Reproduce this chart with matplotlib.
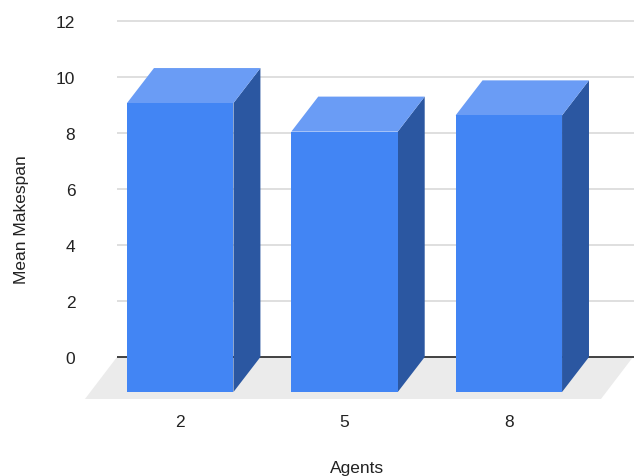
import matplotlib.pyplot as plt
from matplotlib.patches import Polygon

# Data
agents = ['2', '5', '8']
mean_makespan = [9.07, 8.05, 8.63]
y_ticks = [0, 2, 4, 6, 8, 10, 12]

# 3D look: bar width and depth offsets in data units
BAR_W = 0.648
DX = 0.164      # horizontal shift of the back face
DZ = 1.25       # vertical shift of the back face
FLOOR_DX = 0.195
FLOOR_Y = -1.5

FRONT = '#4285f4'
TOP = '#6a9cf5'
SIDE = '#2b57a1'
FLOOR = '#ebebeb'
TEXT = '#222222'

plt.rcParams['font.family'] = ['Liberation Sans Narrow', 'Liberation Sans', 'DejaVu Sans']

fig = plt.figure(figsize=(6.34, 4.77), dpi=100)
ax = fig.add_axes([117 / 634, 77 / 477, 517 / 634, 400 / 477])
ax.set_xlim(-0.385, 2.762)
ax.set_ylim(-1.5, 12.786)

for s in ax.spines.values():
    s.set_visible(False)

# gridlines on the back wall
for t in y_ticks[1:]:
    ax.axhline(t, color='#d9d9d9', lw=1.2, zorder=1)

# floor
x_left, x_right = -0.385, 2.756
floor = Polygon([(x_left, 0), (x_right, 0), (x_right - FLOOR_DX, FLOOR_Y),
                 (x_left - FLOOR_DX, FLOOR_Y)], closed=True,
                facecolor=FLOOR, edgecolor='none', zorder=1, clip_on=False)
ax.add_patch(floor)
ax.axhline(0, color='#333333', lw=1.3, zorder=2)

# bars: front, top and right side faces
for i, v in enumerate(mean_makespan):
    x0 = i - BAR_W / 2
    x1 = i + BAR_W / 2
    y0 = -DZ
    side = Polygon([(x1, y0), (x1, v), (x1 + DX, v + DZ), (x1 + DX, y0 + DZ)],
                   facecolor=SIDE, edgecolor='none', zorder=3, clip_on=False)
    top = Polygon([(x0, v), (x1, v), (x1 + DX, v + DZ), (x0 + DX, v + DZ)],
                  facecolor=TOP, edgecolor='none', zorder=3, clip_on=False)
    front = Polygon([(x0, y0), (x1, y0), (x1, v), (x0, v)],
                    facecolor=FRONT, edgecolor='none', zorder=4, clip_on=False)
    ax.add_patch(side)
    ax.add_patch(top)
    ax.add_patch(front)

ax.set_yticks(y_ticks)
ax.set_yticklabels([str(t) for t in y_ticks])
ax.set_xticks(range(len(agents)))
ax.set_xticklabels(agents)
ax.tick_params(axis='y', length=0, pad=30, labelsize=12.5, labelcolor=TEXT)
ax.tick_params(axis='x', length=0, pad=11, labelsize=12.5, labelcolor=TEXT)

ax.set_xlabel('Agents', fontsize=12.5, color=TEXT)
ax.xaxis.set_label_coords(0.464, -0.1725)
ax.xaxis.label.set_va('center')
ax.set_ylabel('Mean Makespan', fontsize=12.5, color=TEXT)
ax.yaxis.set_label_coords(-0.184, 0.45)
ax.yaxis.label.set_va('center')

fig.savefig('out.png', dpi=100)
